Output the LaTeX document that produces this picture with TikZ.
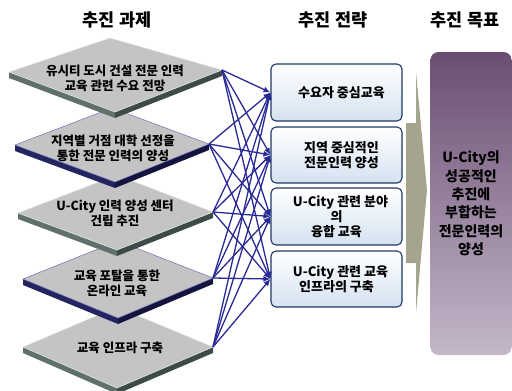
\documentclass[tikz,border=0pt]{standalone}
\usepackage{fontspec}
\setmainfont{Noto Sans CJK KR}
\usetikzlibrary{arrows.meta}
\definecolor{linkblue}{RGB}{42,42,150}
\definecolor{boxblue}{RGB}{31,56,100}
\definecolor{boxfill}{RGB}{212,226,240}
\definecolor{goaltop}{RGB}{106,78,114}
\definecolor{goalbot}{RGB}{196,183,201}
\definecolor{arrowgrey}{RGB}{165,165,143}
\definecolor{slabgrey}{RGB}{196,196,196}
\definecolor{greenL}{RGB}{96,113,109}
\definecolor{greenR}{RGB}{60,74,72}
\definecolor{navyL}{RGB}{36,36,96}
\definecolor{navyR}{RGB}{20,20,62}
\definecolor{edgelight}{RGB}{225,232,230}
\definecolor{edgeblue}{RGB}{110,110,185}
\newcommand{\myslab}[6]{%
  \fill[#5] (#1) -- (#4) -- ([yshift=-6pt]#4) -- ([yshift=-6pt]#1) -- cycle;
  \fill[#6] (#4) -- (#3) -- ([yshift=-6pt]#3) -- ([yshift=-6pt]#4) -- cycle;
  \filldraw[fill=slabgrey,draw=#2,line width=0.5pt] (#1) -- (t#1) -- (#3) -- (#4) -- cycle;
}
\begin{document}
\begin{tikzpicture}[x=1pt,y=-1pt,
  hdr/.style={font=\bfseries\fontsize{17.5}{20}\selectfont},
  dtext/.style={font=\bfseries\fontsize{12.5}{15}\selectfont,align=center,inner sep=0pt},
  sbox/.style={draw=boxblue,line width=1.1pt,rounded corners=5pt,top color=white,bottom color=boxfill,minimum width=131pt,align=center,font=\bfseries\fontsize{13}{15}\selectfont,inner sep=0pt},
  goalbox/.style={rounded corners=8pt,top color=goaltop,bottom color=goalbot,minimum width=81pt,minimum height=303pt,align=center,font=\bfseries\fontsize{14}{18.4}\selectfont,inner sep=0pt},
  conn/.style={draw=linkblue,line width=1.3pt,-{Latex[length=7pt,width=6pt]}}]
\useasboundingbox (0,0) rectangle (512,391);
% headers
\node[hdr] (h1) at (117,20) {추진 과제};
\node[hdr] (h2) at (333,20) {추진 전략};
\node[hdr] (h3) at (465,20) {추진 목표};
% slab corner coordinates
\coordinate (l1) at (9,72);   \coordinate (tl1) at (110,38);  \coordinate (r1) at (222,70);  \coordinate (b1) at (115,112);
\coordinate (l2) at (15,145); \coordinate (tl2) at (112,108); \coordinate (r2) at (209,144); \coordinate (b2) at (115,182);
\coordinate (l3) at (18,213); \coordinate (tl3) at (117,175); \coordinate (r3) at (213,212); \coordinate (b3) at (117,250);
\coordinate (l4) at (23,279); \coordinate (tl4) at (118,241); \coordinate (r4) at (213,278); \coordinate (b4) at (118,318);
\coordinate (l5) at (23,347); \coordinate (tl5) at (117,307); \coordinate (r5) at (213,347); \coordinate (b5) at (117,388);
% slabs bottom to top
\myslab{l5}{edgelight}{r5}{b5}{greenL}{greenR}
\myslab{l4}{edgeblue}{r4}{b4}{navyL}{navyR}
\myslab{l3}{edgelight}{r3}{b3}{greenL}{greenR}
\myslab{l2}{edgeblue}{r2}{b2}{navyL}{navyR}
\myslab{l1}{edgelight}{r1}{b1}{greenL}{greenR}
% slab texts
\node[dtext] (t1) at (115,78) {유시티 도시 건설 전문 인력\\교육 관련 수요 전망};
\node[dtext] (t2) at (113,148) {지역별 거점 대학 선정을\\통한 전문 인력의 양성};
\node[dtext] (t3) at (115,213) {U-City 인력 양성 센터\\건립 추진};
\node[dtext] (t4) at (117,283) {교육 포탈을 통한\\온라인 교육};
\node[dtext] (t5) at (120,348) {교육 인프라 구축};
% strategy boxes
\node[sbox,minimum height=57pt] (s1) at (336.5,92.5) {\hspace*{10pt}수요자 중심교육};
\node[sbox,minimum height=56pt] (s2) at (336.5,155) {\hspace*{10pt}지역 중심적인\\\hspace*{10pt}전문인력 양성};
\node[sbox,minimum height=57pt] (s3) at (336.5,216.5) {\hspace*{8pt}U-City 관련 분야\\의\\융합 교육};
\node[sbox,minimum height=56pt] (s4) at (336.5,279) {\hspace*{8pt}U-City 관련 교육\\인프라의 구축};
% big arrow
\fill[arrowgrey] (406,123) -- (416,123) -- (416,72) -- (427,190) -- (416,313) -- (416,263) -- (406,263) -- cycle;
% goal box
\node[goalbox] (g) at (471,203.5) {U-City의\\성공적인\\추진에\\부합하는\\전문인력의\\양성};
% connectors
\foreach \d in {1,...,5}{
  \foreach \s in {1,...,4}{
    \draw[conn] (r\d) -- (s\s.west);
  }
}
\end{tikzpicture}
\end{document}
